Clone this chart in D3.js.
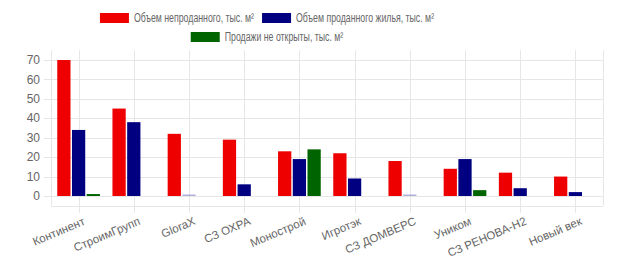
<!DOCTYPE html>
<html><head><meta charset="utf-8">
<script src="https://cdn.jsdelivr.net/npm/d3@7"></script>
<style>body{margin:0;background:#fff;} svg{display:block;font-family:"Liberation Sans",Arial,sans-serif;}</style>
</head><body>
<script>
const categories = ["Континент","СтроимГрупп","GloraX","СЗ ОХРА","Монострой","Игротэк","СЗ ДОМВЕРС","Уником","СЗ РЕНОВА-Н2","Новый век"];
const unsold = [70,45,32,29,23,22,18,14,12,10];
const sold = [34,38,0.4,6,19,9,0.2,19,4,2];
const notOpen = [1,0,0,0,24,0,0,3,0,0];
const seriesNames = ["Объем непроданного, тыс. м²","Объем проданного жилья, тыс. м²","Продажи не открыты, тыс. м²"];
const seriesColors = ["#ee0000","#000080","#006400"];
const yTicks = [0,10,20,30,40,50,60,70];

const W=620,H=260;
const svg=d3.select("body").append("svg").attr("width",W).attr("height",H);
const left=51,right=603;
const x=d3.scaleBand().domain(categories).range([left,right]).paddingInner(0).paddingOuter(0);
const y=d3.scaleLinear().domain([-5,75]).range([205.7,50.3]);
const series=[unsold,sold,notOpen];
const xs=d3.scaleBand().domain([0,1,2]).range([0,x.bandwidth()*0.8]).paddingInner(0.1).paddingOuter(0.05);
const grid="#e6e6e6";

svg.append("g").selectAll("line").data(yTicks).join("line")
 .attr("x1",left-7).attr("x2",right).attr("y1",d=>Math.round(y(d))+0.5).attr("y2",d=>Math.round(y(d))+0.5)
 .attr("stroke",grid);
svg.append("g").selectAll("line").data(categories).join("line")
 .attr("x1",d=>Math.round(x(d)+x.bandwidth()/2)+0.5).attr("x2",d=>Math.round(x(d)+x.bandwidth()/2)+0.5)
 .attr("y1",y(75)).attr("y2",y(-5)+7).attr("stroke",grid);
svg.append("line").attr("x1",left+0.5).attr("x2",left+0.5).attr("y1",y(75)).attr("y2",y(-5)).attr("stroke",grid);
svg.append("line").attr("x1",left).attr("x2",right).attr("y1",Math.round(y(-5))+0.5).attr("y2",Math.round(y(-5))+0.5).attr("stroke",grid);
svg.append("line").attr("x1",right+0.5).attr("x2",right+0.5).attr("y1",y(75)).attr("y2",y(-5)).attr("stroke",grid);

svg.append("g").selectAll("text").data(yTicks).join("text")
 .attr("x",40).attr("y",d=>y(d)).attr("dy","0.35em").attr("text-anchor","end")
 .attr("font-size",12).attr("fill","#666").text(d=>d);

series.forEach((vals,si)=>{
  svg.append("g").selectAll("rect").data(vals.map((v,i)=>({v,i})).filter(d=>d.v>0)).join("rect")
   .attr("x",d=>x(categories[d.i])+x.bandwidth()*0.1+xs(si))
   .attr("width",xs.bandwidth())
   .attr("y",d=>Math.min(y(d.v),y(0)-1.5))
   .attr("height",d=>Math.max(1.5,y(0)-y(d.v)))
   .attr("fill",seriesColors[si])
   .attr("opacity",d=>d.v<1&&si===1?0.3:1);
});

const ly=y(-5)+11;
svg.append("g").selectAll("text").data(categories).join("text")
 .attr("transform",d=>`translate(${x(d)+x.bandwidth()/2+4},${ly}) rotate(-23)`)
 .attr("text-anchor","end").attr("dy","0.7em").attr("font-size",11.5).attr("fill","#666").text(d=>d);

// legend
const rows=[[0,1],[2]];
const cx=267, boxW=29, gap=5, itemGap=8;
rows.forEach((row,ri)=>{
  const yy=13+ri*19;
  const g=svg.append("g");
  const items=row.map(i=>{
    const t=g.append("text").attr("font-size",12).attr("fill","#666")
      .attr("y",yy+5).attr("dy","0.35em").text(seriesNames[i]);
    const w=t.node().getComputedTextLength()*0.73;
    t.attr("textLength",w).attr("lengthAdjust","spacingAndGlyphs");
    return {i,t,w};
  });
  const total=d3.sum(items,d=>boxW+gap+d.w)+itemGap*(items.length-1);
  let xx=cx-total/2;
  items.forEach(it=>{
    g.append("rect").attr("x",xx).attr("y",yy).attr("width",boxW).attr("height",10).attr("fill",seriesColors[it.i]);
    it.t.attr("x",xx+boxW+gap);
    xx+=boxW+gap+it.w+itemGap;
  });
});
</script>
</body></html>
